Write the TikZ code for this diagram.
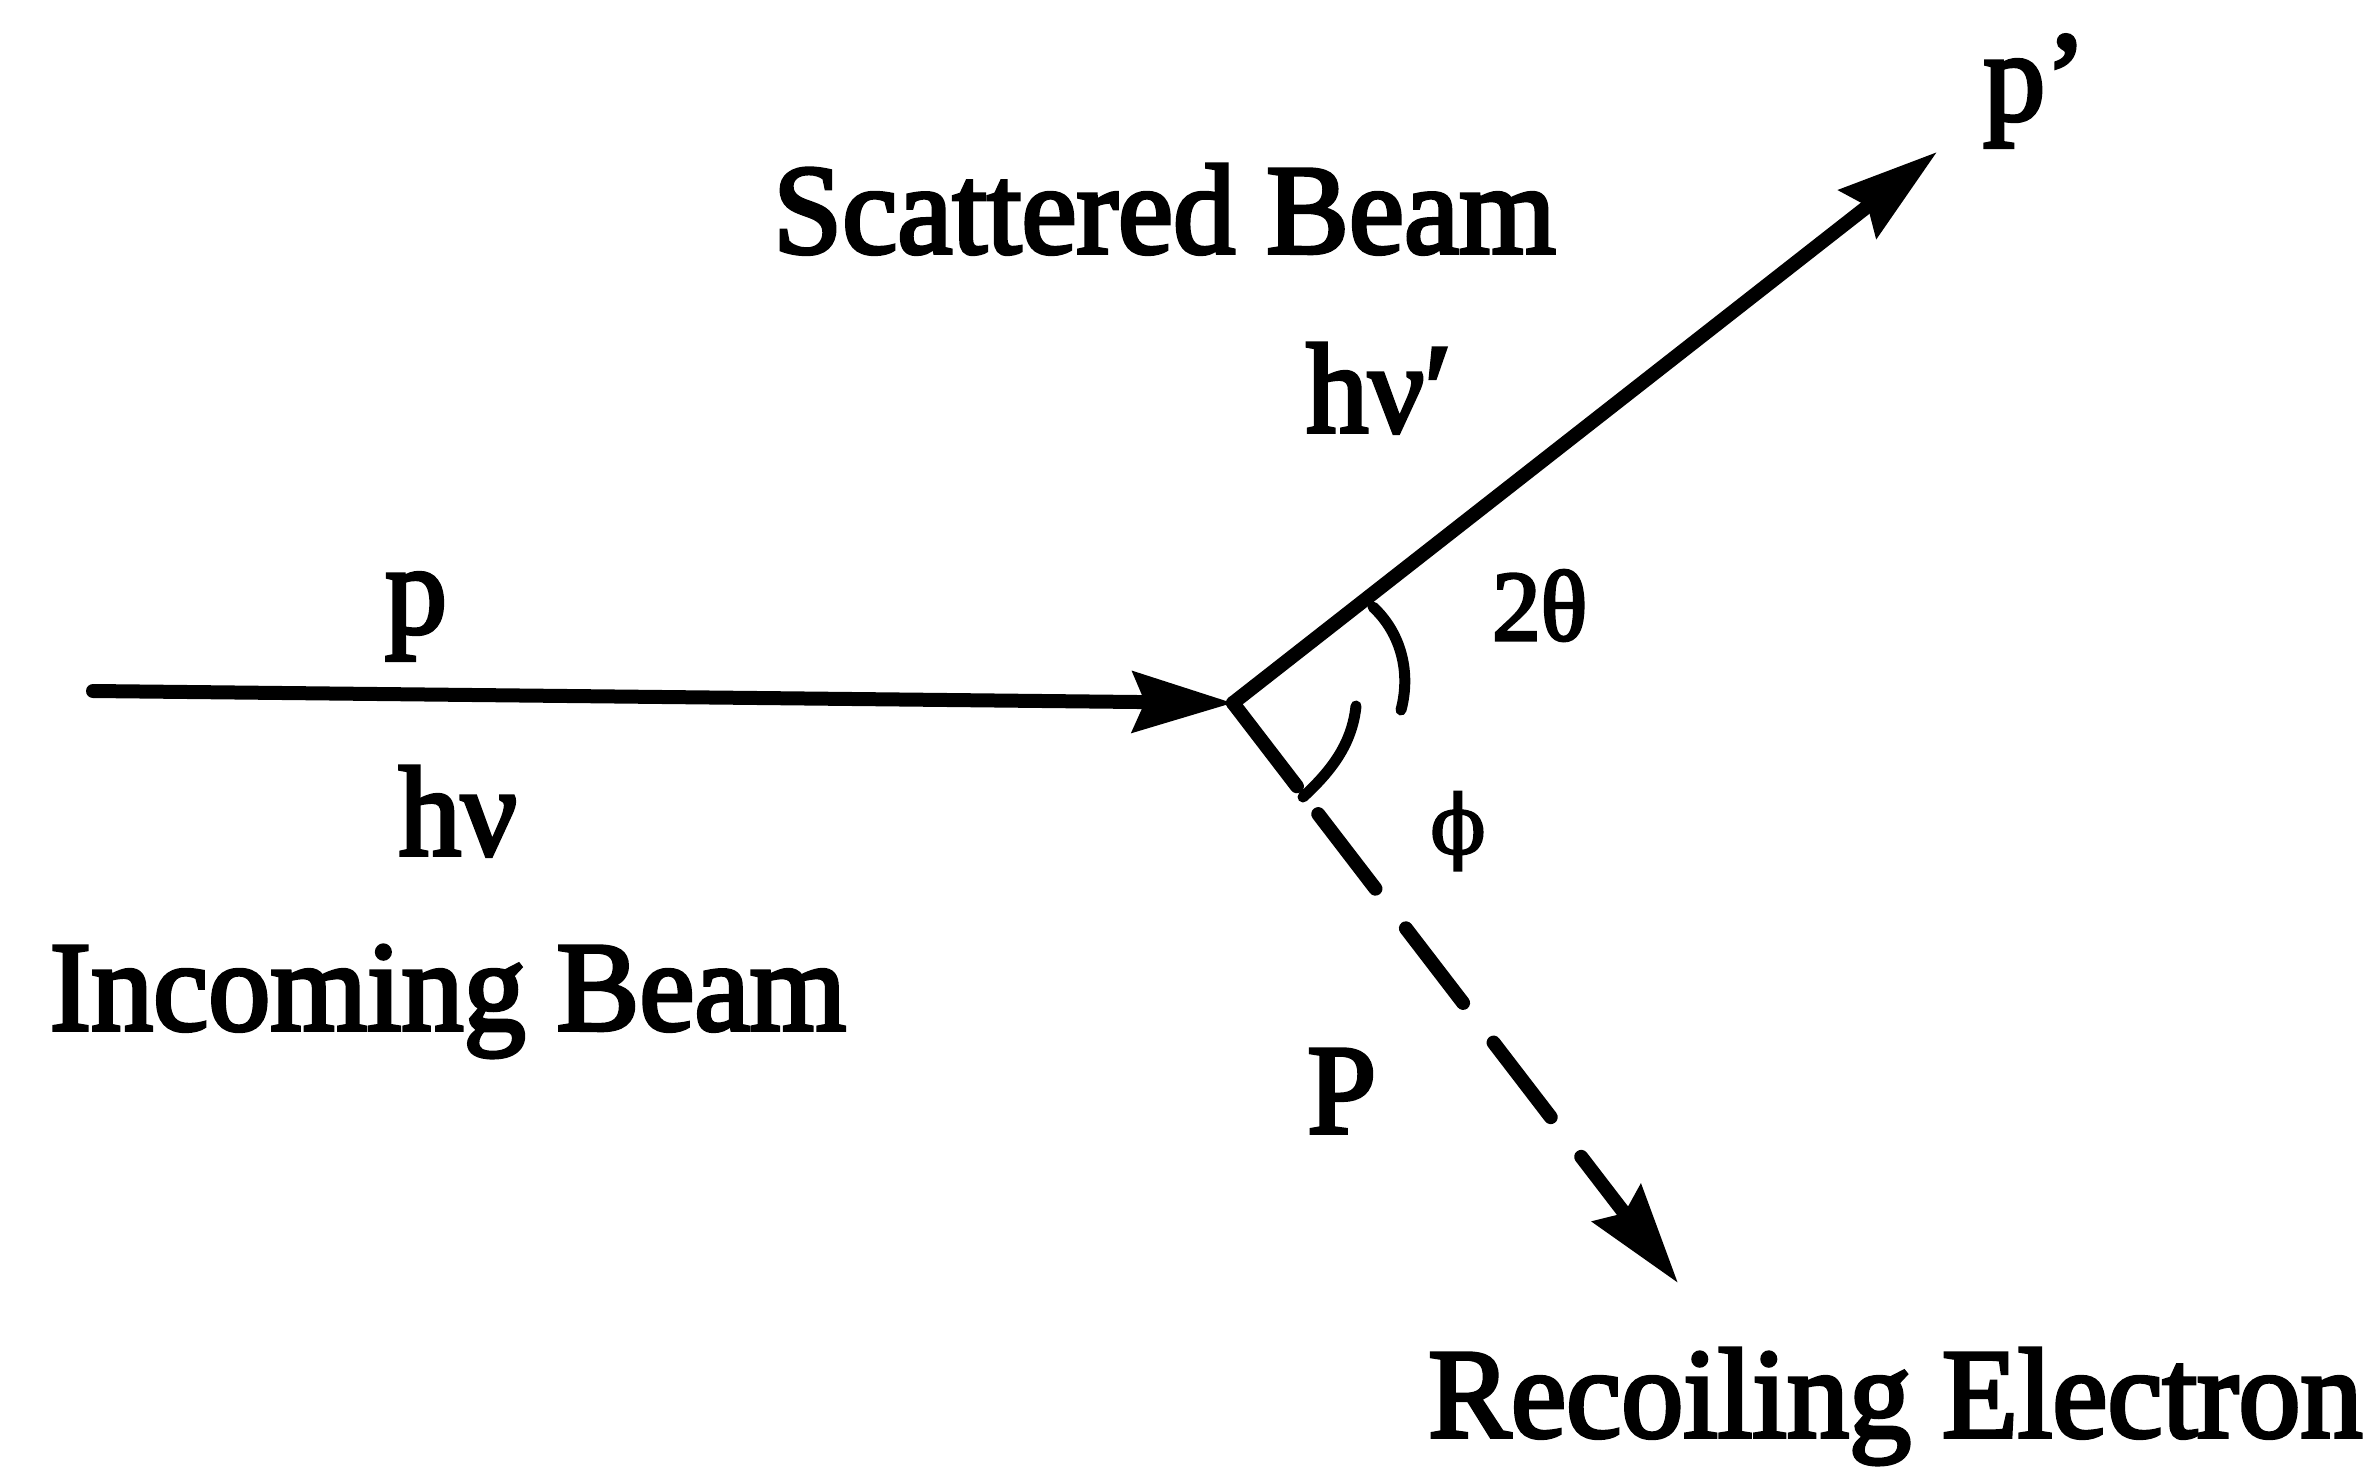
\documentclass[tikz,border=0pt]{standalone}
\usepackage{fontspec}
\setmainfont{Liberation Serif}[FakeStretch=0.97,FakeBold=3]
\newfontfamily\phifont{DejaVu Serif}[FakeBold=2]
\usetikzlibrary{arrows.meta}
\begin{document}
\begin{tikzpicture}[x=1pt,y=-1pt,
  beam/.style={line width=14pt, line cap=round, -{Stealth[length=100pt,width=60pt,inset=12pt]}},
  recoil/.style={beam, dash pattern=on 105pt off 35pt on 94pt off 50pt on 94pt off 50pt on 94pt off 50pt on 600pt},
  anglearc/.style={line width=11pt, line cap=round},
  lbl/.style={inner sep=0pt, font=\fontsize{128}{150}\selectfont},
  smalllbl/.style={inner sep=0pt, font=\fontsize{100}{120}\selectfont}]
\useasboundingbox (0,0) rectangle (2369,1467);
\fill[white] (0,0) rectangle (2369,1467);

% key points
\coordinate (in0) at (93,691);
\coordinate (v) at (1233,703);
\coordinate (sT) at (1937,152);
\coordinate (rT) at (1678,1283);
\coordinate (ta) at (1373,607);
\coordinate (tb) at (1401,710);
\coordinate (pa) at (1303,797);
\coordinate (pb) at (1356,706);

% beams
\draw[beam] (in0) -- (v);
\draw[beam] (v) -- (sT);
\draw[recoil] (v) -- (rT);

% angle arcs
\draw[anglearc] (ta) .. controls (1398,630) and (1412,668) .. (tb);
\draw[anglearc] (pa) .. controls (1330,772) and (1352,745) .. (pb);

% labels
\node[lbl, anchor=base] (pin) at (416,633) {p};
\node[lbl, anchor=base] (hnu) at (458,855) {hν};
\node[lbl, anchor=base] (inbeam) at (448,1030) {Incoming Beam};
\node[lbl, anchor=base west] (scbeam) at (773,253) {Scattered Beam};
\node[lbl, anchor=base west] (hnup) at (1306,432) {hν′};
\node[lbl, anchor=base west] (pout) at (1983,120) {p’};
\node[smalllbl, anchor=base west] (theta) at (1492,640) {2θ};
\node[inner sep=0pt, font=\phifont\fontsize{82}{90}\selectfont] (phi) at (1458,831) {ϕ};
\node[lbl, anchor=base west] (Pel) at (1307,1133) {P};
\node[lbl, anchor=base west] (recel) at (1428,1437) {Recoiling Electron};
\end{tikzpicture}
\end{document}
